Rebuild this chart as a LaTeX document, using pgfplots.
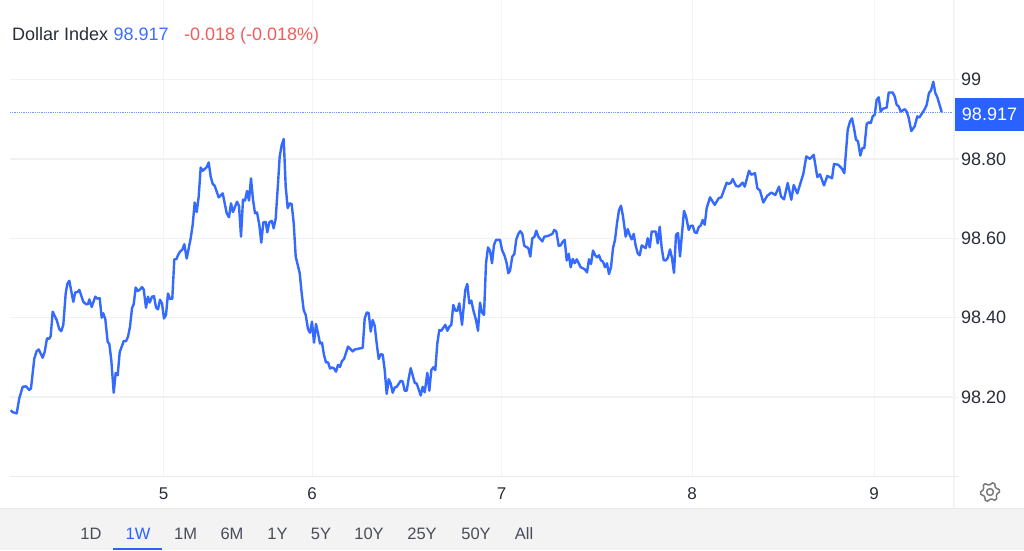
\documentclass[border=0pt]{standalone}
\usepackage{fontspec}
\setmainfont{Liberation Sans}
\usepackage{pgfplots}
\usepackage{pgfplotstable}
\pgfplotsset{compat=1.18}
\definecolor{lineblue}{HTML}{2962FF}
\definecolor{titleblue}{HTML}{3D6FFF}
\definecolor{titlered}{HTML}{F45B5B}
\definecolor{gridh}{HTML}{F0F1F2}
\definecolor{gridv}{HTML}{F1F5F7}
\definecolor{txt}{HTML}{2A2E39}
\definecolor{band}{HTML}{F3F3F3}
\definecolor{bandline}{HTML}{E8EAEC}
\definecolor{gear}{HTML}{7A7A7A}
\pgfplotstableread{
x y
10.7 98.167
12.7 98.162
16.7 98.159
19.3 98.197
22.7 98.226
26 98.227
29.3 98.218
31 98.222
34.3 98.297
36.7 98.316
38.7 98.320
42.7 98.299
44.7 98.314
47 98.348
49.3 98.347
50.7 98.354
52.7 98.415
56.7 98.394
59.3 98.371
61.3 98.366
63.3 98.382
65.7 98.461
67.3 98.485
69.3 98.493
73.3 98.440
75.3 98.464
77.3 98.464
79.3 98.470
83.3 98.440
86 98.434
88 98.434
89.3 98.446
91.7 98.427
95.3 98.453
97.3 98.448
99.7 98.449
101.7 98.400
103.3 98.411
105.3 98.396
107.7 98.339
109.3 98.334
111.3 98.293
113.7 98.211
115.7 98.261
117.7 98.255
119.7 98.313
123.7 98.341
126 98.341
128 98.352
130 98.377
132 98.424
133.7 98.434
135.7 98.476
137.7 98.467
140 98.471
142 98.477
143.7 98.471
146 98.425
148 98.453
149.7 98.438
152 98.453
154 98.454
156 98.426
158 98.421
160 98.445
162 98.436
164 98.398
166 98.407
168 98.461
170 98.447
172.3 98.448
174.3 98.547
176.3 98.547
178.3 98.559
180.3 98.567
182.3 98.571
184.3 98.585
186.7 98.549
190.7 98.600
192.7 98.634
194.7 98.690
196.7 98.666
198.7 98.705
200.7 98.778
202.7 98.770
206.7 98.779
208.7 98.791
210.7 98.755
212.7 98.737
214.7 98.732
218.7 98.703
222.7 98.713
226.7 98.663
229 98.653
231 98.688
233 98.666
237 98.692
239 98.682
241 98.604
243 98.697
245 98.695
247 98.719
249 98.695
251 98.751
253 98.697
255 98.663
257 98.665
259.3 98.634
261.3 98.589
263.3 98.640
265.7 98.641
267.3 98.615
269.3 98.640
271.7 98.644
273.7 98.625
275.7 98.650
277.7 98.726
279.7 98.806
281.7 98.835
283.7 98.850
285.7 98.730
287.7 98.676
289.7 98.688
291.7 98.686
293.7 98.638
295.7 98.554
299.7 98.512
301.7 98.461
303.7 98.419
305.7 98.407
308 98.371
310 98.362
312 98.390
314 98.337
316 98.384
318 98.361
320 98.335
322 98.337
324 98.306
326 98.287
328 98.288
330 98.272
332 98.275
334 98.272
336 98.264
338 98.281
340 98.276
342 98.291
344 98.296
348 98.327
352.7 98.315
354.7 98.320
362.7 98.324
364.7 98.398
366.7 98.413
368.7 98.412
370.7 98.365
372.7 98.394
374.7 98.380
376.7 98.335
378.7 98.296
380.7 98.308
382.7 98.307
384.7 98.268
386.7 98.208
388.7 98.245
390.7 98.234
392.7 98.211
394.7 98.224
396.7 98.226
400.7 98.241
402.7 98.239
404.7 98.216
406.7 98.216
408.7 98.247
410.7 98.273
414.7 98.236
416.7 98.234
420.7 98.204
422.7 98.226
424.7 98.212
427.3 98.261
429.3 98.216
431.3 98.268
433.3 98.275
435.3 98.268
437.3 98.335
439.3 98.369
441.3 98.367
445.3 98.382
447.3 98.367
449.3 98.377
451.3 98.382
453.3 98.432
455.3 98.418
457.3 98.417
459.3 98.436
462 98.382
465.3 98.470
467.3 98.485
469.3 98.436
471.3 98.443
473.3 98.419
476 98.394
478 98.367
480 98.438
482 98.413
484 98.407
486 98.537
488 98.577
490 98.569
492 98.537
494 98.583
496 98.596
500 98.596
502 98.571
504.7 98.555
506.7 98.537
508.3 98.512
510 98.518
512.3 98.554
514.3 98.560
516.3 98.597
518.3 98.611
520.3 98.618
522.3 98.611
524.3 98.581
528.3 98.575
530.3 98.554
532.3 98.600
534.3 98.603
536.3 98.619
538.3 98.604
542.3 98.592
544.3 98.604
548.3 98.606
552.3 98.611
554.3 98.621
556.3 98.617
558.7 98.581
560.7 98.582
562.7 98.591
564.7 98.596
566.7 98.544
568.7 98.561
570.7 98.527
572.7 98.548
574.7 98.537
576.7 98.547
580.7 98.527
584.7 98.522
587 98.514
589 98.547
591 98.535
593 98.569
595 98.558
597 98.552
599 98.557
601 98.544
603 98.541
605 98.527
607 98.537
609 98.510
611 98.527
613 98.575
615 98.596
617 98.638
619 98.671
621 98.682
623 98.655
625.7 98.604
627.7 98.623
629.7 98.608
631.7 98.597
633.7 98.611
635.7 98.581
637.7 98.562
639.7 98.557
641.7 98.582
645.7 98.575
647.7 98.600
649.7 98.577
651.7 98.617
655.7 98.617
657.7 98.587
659.7 98.629
661.7 98.575
663.7 98.545
665.7 98.544
667.7 98.550
670 98.572
672 98.550
674 98.513
676 98.609
678 98.613
680 98.554
681.7 98.604
684 98.669
686 98.655
688.7 98.621
690.7 98.631
692.7 98.632
694.7 98.615
696.7 98.613
698.7 98.628
700.7 98.632
702.7 98.646
704.7 98.634
706.7 98.676
710 98.703
714.7 98.684
718.7 98.701
721.3 98.703
726.7 98.740
728.7 98.737
730.7 98.739
732.7 98.749
736 98.732
738.7 98.730
742.7 98.740
744.7 98.730
749 98.770
751.3 98.760
755 98.764
757.3 98.726
760 98.720
763.3 98.690
767.3 98.707
771.3 98.715
775.3 98.709
779 98.730
781 98.705
784 98.698
787.7 98.739
791.3 98.697
793.7 98.734
797.3 98.713
803.3 98.762
806.3 98.806
810 98.800
813.7 98.810
817.3 98.754
820 98.761
824 98.733
827.3 98.757
832 98.751
834 98.787
838.3 98.785
841.7 98.776
844.3 98.764
847.7 98.873
850 98.894
852 98.902
854 98.877
856 98.848
858 98.844
860.3 98.808
862.3 98.827
864.3 98.827
866.7 98.888
868.7 98.892
870.7 98.890
872.7 98.907
874.7 98.911
876.7 98.949
878.7 98.955
880.7 98.919
882.7 98.926
886.7 98.929
888.7 98.967
892.7 98.967
894.7 98.957
896.7 98.936
898.7 98.932
900.7 98.919
904.7 98.925
906.7 98.919
908.7 98.903
911.3 98.870
914.7 98.882
917.3 98.907
919.3 98.904
924.7 98.925
926.7 98.936
929 98.966
931 98.972
933.3 98.994
935.3 98.966
937.3 98.955
941.7 98.918
}\dxydata
\begin{document}
\begin{tikzpicture}[x=1pt,y=1pt]
\path[use as bounding box] (0,0) rectangle (1024,550);
\fill[white] (0,0) rectangle (1024,550);
\fill[band] (0,0) rectangle (1024,42);
\draw[bandline,line width=0.8pt] (0,42) -- (1024,42);
\begin{axis}[
  at={(10pt,73.5pt)}, anchor=south west,
  scale only axis, width=944pt, height=476.5pt,
  xmin=10, xmax=954, ymin=98, ymax=99.2,
  axis line style={draw=none},
  clip=false,
  xtick={163.5,312,501.5,692,874},
  xticklabels={5,6,7,8,9},
  ytick={98.2,98.4,98.6,98.8,99},
  yticklabels={98.20,98.40,98.60,98.80,99},
  yticklabel pos=right,
  xmajorgrids, ymajorgrids,
  x grid style={gridv,line width=1pt},
  y grid style={gridh,line width=1.4pt},
  major tick length=0pt,
  x tick label style={font=\fontsize{17}{18}\selectfont,text=txt,anchor=base,yshift=-23pt},
  y tick label style={font=\fontsize{18}{20}\selectfont,text=txt,anchor=west,xshift=3.5pt},
  /pgf/number format/assume math mode=true,
]
\addplot[lineblue!65,line width=0.9pt,dash pattern=on 1pt off 0.8pt,forget plot] coordinates {(10,98.917) (954,98.917)};
\addplot[lineblue!95!white,line width=2.4pt,line join=round,no marks] table[x=x,y=y] {\dxydata};
\end{axis}
% frame lines
\draw[gridv,line width=1.2pt] (954,42) -- (954,550);
\draw[bandline,line width=0.9pt] (10,73.5) -- (958,73.5);
\foreach \yy in {152.8,232.2,311.6,391,470.5} \draw[gridh,line width=1.2pt] (954,\yy) -- (959,\yy);
% title
\node[anchor=base west,inner sep=0,text=txt,font=\fontsize{18}{20}\selectfont] at (12,509) {Dollar Index};
\node[anchor=base west,inner sep=0,text=titleblue,font=\fontsize{18}{20}\selectfont] at (113.5,509) {98.917};
\node[anchor=base west,inner sep=0,text=titlered,font=\fontsize{18}{20}\selectfont] at (184,509) {-0.018 (-0.018\%)};
% last-value tag
\fill[lineblue] (955,419.3) rectangle (1024,451.7);
\node[text=white,inner sep=0,anchor=base,font=\fontsize{18}{20}\selectfont] at (989.5,429) {98.917};
% range selector
\foreach \c/\t in {91/1D,185.6/1M,232/6M,277.5/1Y,321/5Y,369/10Y,422/25Y,476/50Y,524/All}
  \node[text=txt!85,inner sep=0,anchor=base,font=\fontsize{16.5}{18}\selectfont] at (\c,11) {\t};
\node[text=lineblue,inner sep=0,anchor=base,font=\fontsize{16.5}{18}\selectfont] at (138,11) {1W};
\fill[lineblue] (113,0) rectangle (162,2.5);
% gear icon
\begin{scope}[shift={(990,58)}]
\draw[gear,line width=1.5pt,line join=round]
 (15:9.5) -- (30:7.3) -- (45:7.3) -- (60:9.5) -- (75:9.5) -- (90:7.3) -- (105:7.3) -- (120:9.5) -- (135:9.5) -- (150:7.3) -- (165:7.3)
 -- (180:9.5) -- (195:9.5) -- (210:7.3) -- (225:7.3) -- (240:9.5) -- (255:9.5) -- (270:7.3) -- (285:7.3) -- (300:9.5) -- (315:9.5) -- (330:7.3) -- (345:7.3) -- (0:9.5) -- cycle;
\draw[gear,line width=1.5pt] (0,0) circle (3.4);
\end{scope}
\end{tikzpicture}
\end{document}
